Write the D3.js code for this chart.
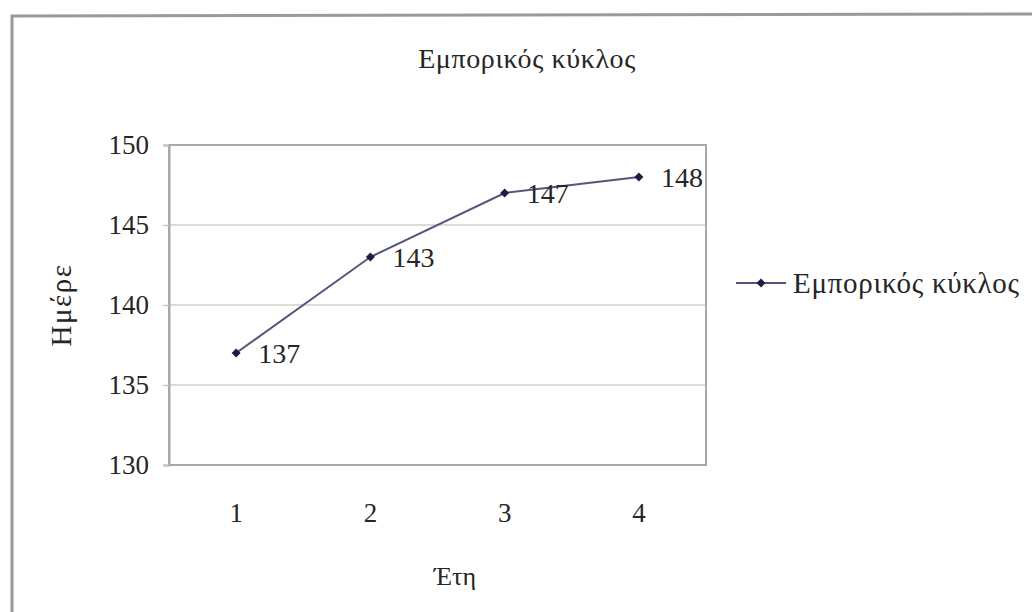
<!DOCTYPE html>
<html>
<head>
<meta charset="utf-8">
<script src="https://cdn.jsdelivr.net/npm/d3@7"></script>
<style>
  html, body { margin: 0; padding: 0; background: #fff; }
  svg text { font-family: 'Liberation Serif', 'Times New Roman', 'DejaVu Serif', serif; }
</style>
</head>
<body>
<svg id="chart" width="1032" height="612"></svg>
<script>
// Trade cycle (days) per year
const chartTitle = "Εμπορικός κύκλος";
const seriesName = "Εμπορικός κύκλος";
const years = ["1", "2", "3", "4"];
const days = [137, 143, 147, 148];
const yTicks = [130, 135, 140, 145, 150];
const xAxisTitle = "Έτη";
const yAxisTitle = "Ημέρε";

const svg = d3.select("#chart");
const plot = { left: 169, right: 706, top: 145, bottom: 465 };
const ink = "#1c1c44";
const textColor = "#262626";

// outer chart frame (top and left edges visible)
svg.append("path")
  .attr("d", "M12,612 L12,16 L1032,14")
  .attr("fill", "none")
  .attr("stroke", "#9a9a9a")
  .attr("stroke-width", 3);

const x = d3.scaleBand().domain(years).range([plot.left, plot.right]);
const y = d3.scaleLinear().domain([130, 150]).range([plot.bottom, plot.top]);

// horizontal gridlines
svg.append("g")
  .selectAll("line")
  .data(yTicks.slice(1, -1))
  .join("line")
  .attr("x1", plot.left).attr("x2", plot.right)
  .attr("y1", d => y(d)).attr("y2", d => y(d))
  .attr("stroke", "#dcdcdc")
  .attr("stroke-width", 2);

// plot area border
svg.append("rect")
  .attr("x", plot.left).attr("y", plot.top)
  .attr("width", plot.right - plot.left).attr("height", plot.bottom - plot.top)
  .attr("fill", "none")
  .attr("stroke", "#a8a8a8")
  .attr("stroke-width", 2);

// y axis
const yAxis = svg.append("g")
  .attr("transform", `translate(${plot.left},0)`)
  .call(d3.axisLeft(y).tickValues(yTicks).tickSize(6).tickPadding(14).tickFormat(d3.format("d")));
yAxis.attr("font-family", null);
yAxis.select(".domain").attr("stroke", "#a8a8a8").attr("stroke-width", 2);
yAxis.selectAll(".tick line").attr("stroke", "#c8c8c8").attr("stroke-width", 1.5);
yAxis.selectAll(".tick text").attr("font-size", 27).attr("fill", textColor);

// x axis
const xAxis = svg.append("g")
  .attr("transform", `translate(0,${plot.bottom})`)
  .call(d3.axisBottom(x).tickSize(0).tickPadding(38));
xAxis.attr("font-family", null);
xAxis.select(".domain").remove();
xAxis.selectAll(".tick text").attr("font-size", 27).attr("fill", textColor);

// series line
const cx = d => x(d) + x.bandwidth() / 2;
const line = d3.line().x((d, i) => cx(years[i])).y(d => y(d));
svg.append("path")
  .datum(days)
  .attr("d", line)
  .attr("fill", "none")
  .attr("stroke", "#55557a")
  .attr("stroke-width", 2);

// diamond markers
const diamond = d3.symbol().type(d3.symbolSquare).size(40);
svg.append("g")
  .selectAll("path")
  .data(days)
  .join("path")
  .attr("d", diamond)
  .attr("transform", (d, i) => `translate(${cx(years[i])},${y(d)}) rotate(45)`)
  .attr("fill", ink);

// value labels
svg.append("g")
  .selectAll("text")
  .data(days)
  .join("text")
  .attr("x", (d, i) => cx(years[i]) + 22)
  .attr("y", d => y(d) + 10)
  .attr("font-size", 28)
  .attr("fill", textColor)
  .text(d => d);

// title
svg.append("text")
  .attr("x", 527).attr("y", 68)
  .attr("text-anchor", "middle")
  .attr("font-size", 28)
  .attr("letter-spacing", 0.6)
  .attr("fill", textColor)
  .text(chartTitle);

// axis titles
svg.append("text")
  .attr("x", 455).attr("y", 585)
  .attr("text-anchor", "middle")
  .attr("font-size", 26)
  .attr("fill", textColor)
  .text(xAxisTitle);

svg.append("text")
  .attr("transform", `translate(71,${(plot.top + plot.bottom) / 2}) rotate(-90)`)
  .attr("text-anchor", "middle")
  .attr("font-size", 29)
  .attr("letter-spacing", 1.5)
  .attr("fill", textColor)
  .text(yAxisTitle);

// legend
const lg = svg.append("g").attr("transform", "translate(736,283)");
lg.append("line").attr("x1", 0).attr("x2", 50).attr("y1", 0).attr("y2", 0)
  .attr("stroke", "#55557a").attr("stroke-width", 2);
lg.append("path").attr("d", diamond).attr("transform", "translate(25,0) rotate(45)").attr("fill", ink);
lg.append("text").attr("x", 57).attr("y", 10)
  .attr("font-size", 29).attr("letter-spacing", 0.7).attr("fill", textColor)
  .text(seriesName);
</script>
</body>
</html>
